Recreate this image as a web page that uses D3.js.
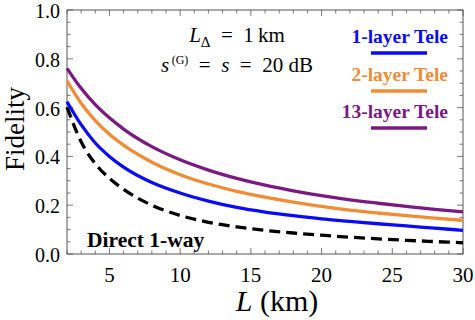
<!DOCTYPE html>
<html><head><meta charset="utf-8">
<script src="https://cdn.jsdelivr.net/npm/d3@7"></script>
<style>body{margin:0;background:#fff}svg{display:block}text{font-family:"Liberation Serif","Times New Roman",serif}</style>
</head><body><svg id="c" width="475" height="320"></svg>
<script>
const Ls = [2,3,4,5,6,8,10,12,14,16,18,20,22,24,26,28,30];
const tele13 = [0.761,0.679,0.612,0.558,0.512,0.440,0.386,0.344,0.310,0.282,0.259,0.239,0.222,0.208,0.195,0.183,0.173];
const tele2  = [0.709,0.618,0.547,0.491,0.446,0.376,0.325,0.287,0.257,0.233,0.213,0.195,0.180,0.168,0.157,0.147,0.138];
const tele1  = [0.624,0.530,0.455,0.400,0.356,0.293,0.250,0.217,0.191,0.172,0.157,0.144,0.134,0.124,0.115,0.106,0.097];
const direct = [0.602,0.460,0.370,0.310,0.265,0.200,0.158,0.130,0.111,0.097,0.086,0.077,0.069,0.062,0.056,0.051,0.046];
const xMajor = [5,10,15,20,25,30];
const yMajor = [0,0.2,0.4,0.6,0.8,1.0];
const seriesNames = ["1-layer Tele","2-layer Tele","13-layer Tele"];
const seriesColors = ["#0a0af5","#f08c35","#7a1a80"];

const svg = d3.select("#c");
const x = d3.scaleLinear().domain([2,30]).range([67,463]);
const y = d3.scaleLinear().domain([0,1]).range([254,10]);
const frame = "#555";

const g = svg.append("g");
const xMinor = d3.range(2,31,1);
const yMinor = d3.range(0,1.0001,0.05);
function isMaj(v, arr){return arr.some(a=>Math.abs(a-v)<1e-6);}
xMinor.forEach(v=>{
  const L = isMaj(v,xMajor)?6:3.5;
  g.append("line").attr("x1",x(v)).attr("x2",x(v)).attr("y1",254).attr("y2",254-L).attr("stroke",frame).attr("stroke-width",0.8);
  g.append("line").attr("x1",x(v)).attr("x2",x(v)).attr("y1",10).attr("y2",10+L).attr("stroke",frame).attr("stroke-width",0.8);
});
yMinor.forEach(v=>{
  const L = isMaj(v,yMajor)?6:3.5;
  g.append("line").attr("x1",67).attr("x2",67+L).attr("y1",y(v)).attr("y2",y(v)).attr("stroke",frame).attr("stroke-width",0.8);
  g.append("line").attr("x1",463).attr("x2",463-L).attr("y1",y(v)).attr("y2",y(v)).attr("stroke",frame).attr("stroke-width",0.8);
});
svg.append("rect").attr("x",67).attr("y",10).attr("width",396).attr("height",244).attr("fill","none").attr("stroke",frame).attr("stroke-width",1);

xMajor.forEach(v=>svg.append("text").attr("x",x(v)).attr("y",282).attr("text-anchor","middle").attr("font-size",21).text(v));
yMajor.forEach(v=>svg.append("text").attr("x",60).attr("y",y(v)+8).attr("text-anchor","end").attr("font-size",20).text(v.toFixed(1)));

svg.append("text").attr("transform","translate(24,129) rotate(-90)").attr("text-anchor","middle").attr("font-size",27).text("Fidelity");
const xt = svg.append("text").attr("x",277).attr("y",311).attr("text-anchor","middle").attr("font-size",30);
xt.append("tspan").attr("font-style","italic").text("L");
xt.append("tspan").text(" (km)");

const line = d3.line().x((d,i)=>x(Ls[i])).y(d=>y(d)).curve(d3.curveMonotoneX);
const plot = svg.append("g");
plot.append("path").attr("d",line(direct)).attr("fill","none").attr("stroke","#000").attr("stroke-width",3.3).attr("stroke-dasharray","11,6");
[tele1,tele2,tele13].forEach((s,i)=>{
  plot.append("path").attr("d",line(s)).attr("fill","none").attr("stroke",seriesColors[i]).attr("stroke-width",3.3);
});

const a1 = svg.append("text").attr("x",237).attr("y",42).attr("text-anchor","middle").attr("font-size",21);
a1.append("tspan").attr("font-style","italic").text("L");
a1.append("tspan").attr("font-size",15).attr("dy",5).text("Δ");
a1.append("tspan").attr("dy",-5).text("\u2002=\u20021\u2009km");
const a2 = svg.append("text").attr("x",237).attr("y",72).attr("text-anchor","middle").attr("font-size",21);
a2.append("tspan").attr("font-style","italic").text("s");
a2.append("tspan").attr("font-size",12).attr("dy",-8).text("\u2009(G)");
a2.append("tspan").attr("dy",8).text("\u2002=\u2002");
a2.append("tspan").attr("font-style","italic").text("s");
a2.append("tspan").text("\u2002=\u200220 dB");

const legY = [43,81,118];
seriesNames.forEach((n,i)=>{
  svg.append("text").attr("x",448).attr("y",legY[i]).attr("text-anchor","end").attr("font-size",19.5).attr("font-weight","bold").attr("fill",seriesColors[i]).text(n);
  svg.append("line").attr("x1",371).attr("x2",427).attr("y1",legY[i]+10).attr("y2",legY[i]+10).attr("stroke",seriesColors[i]).attr("stroke-width",3.5);
});
svg.append("text").attr("x",87).attr("y",247).attr("font-size",21.5).attr("font-weight","bold").text("Direct 1-way");
</script></body></html>
